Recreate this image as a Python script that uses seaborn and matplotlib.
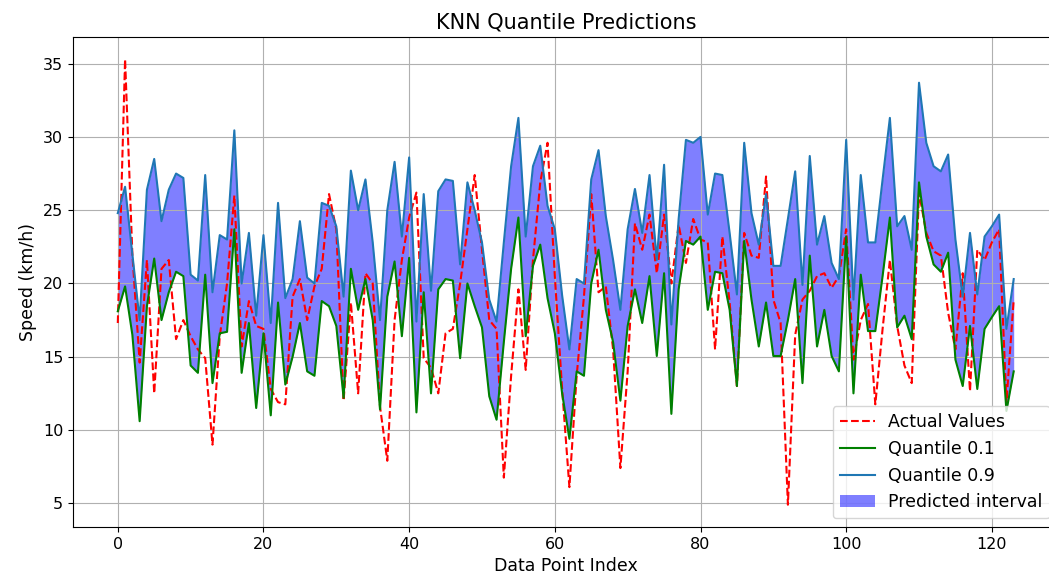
import numpy as np
import pandas as pd
import matplotlib
matplotlib.use("Agg")
import matplotlib.pyplot as plt
import seaborn as sns

actual = [17.3, 35.3, 22.0, 14.6, 21.6, 12.5, 21.0, 21.6, 16.2, 17.5,
          16.4, 15.5, 14.9, 9.0, 16.4, 20.0, 26.0, 15.7, 18.8, 17.1,
          16.9, 12.8, 11.9, 11.75, 19.1, 20.3, 17.5, 19.8, 21.0, 26.1,
          23.7, 12.0, 18.7, 12.5, 20.7, 20.0, 11.6, 7.9, 17.5, 21.6,
          24.5, 26.2, 14.9, 14.25, 12.5, 16.6, 16.9, 20.0, 23.7, 27.4,
          22.3, 17.5, 16.9, 6.75, 13.7, 19.6, 14.1, 21.6, 26.9, 29.6,
          20.5, 12.8, 6.1, 13.7, 19.1, 26.1, 19.4, 19.8, 15.5, 7.4,
          14.0, 24.1, 22.3, 24.7, 20.7, 24.7, 20.0, 24.0, 21.4, 24.4,
          23.0, 22.8, 15.5, 23.2, 18.7, 13.0, 23.45, 21.9, 21.75, 27.3,
          18.9, 17.3, 4.9, 16.5, 18.9, 19.5, 20.5, 20.7, 19.7, 20.5,
          23.7, 14.8, 17.5, 18.6, 11.75, 16.9, 21.6, 17.1, 14.4, 13.2,
          26.2, 23.45, 22.2, 21.9, 18.0, 15.5, 20.7, 12.65, 22.3, 21.6,
          22.8, 23.7, 11.9, 18.9]

q10 = [18.1, 19.8, 16.5, 10.6, 18.45, 21.7, 17.5, 19.4, 20.8, 20.5,
       14.4, 13.9, 20.6, 13.2, 16.6, 16.7, 23.7, 13.9, 17.3, 11.5,
       16.6, 11.0, 18.7, 13.1, 15.0, 17.3, 14.0, 13.7, 18.8, 18.45,
       17.1, 12.2, 21.0, 18.2, 20.3, 17.5, 11.4, 19.1, 21.5, 16.4,
       21.75, 11.2, 19.4, 12.5, 19.6, 20.3, 20.2, 14.9, 20.0, 18.45,
       17.0, 12.3, 10.7, 16.0, 21.0, 24.5, 16.4, 21.2, 22.65, 19.0,
       16.6, 12.5, 9.4, 14.0, 13.7, 20.0, 22.3, 18.2, 16.0, 12.0,
       17.1, 19.6, 17.3, 20.5, 15.05, 20.7, 11.1, 19.6, 22.9, 22.65,
       23.2, 18.2, 20.8, 20.7, 18.2, 13.0, 22.9, 18.9, 15.7, 18.7,
       15.05, 15.05, 17.5, 20.3, 13.2, 21.9, 15.7, 18.2, 15.05, 14.0,
       23.2, 12.5, 20.6, 16.75, 16.75, 20.5, 24.5, 17.0, 17.8, 16.2,
       26.9, 23.2, 21.3, 20.8, 22.1, 14.8, 13.0, 17.1, 12.8, 16.9,
       17.7, 18.45, 11.3, 14.0]

q90 = [24.8, 26.6, 22.0, 17.5, 26.4, 28.5, 24.25, 26.4, 27.5, 27.2,
       20.6, 20.2, 27.4, 19.4, 23.3, 23.0, 30.45, 20.0, 23.45, 17.8,
       23.3, 17.3, 25.5, 19.0, 20.3, 24.25, 20.4, 20.0, 25.5, 25.3,
       23.9, 19.1, 27.7, 25.0, 27.1, 22.8, 17.5, 25.0, 28.3, 23.2,
       28.6, 17.4, 26.1, 19.5, 26.3, 27.1, 27.0, 21.3, 26.9, 25.0,
       22.8, 18.9, 17.4, 22.8, 28.0, 31.3, 23.2, 28.0, 29.4, 25.3,
       23.7, 19.2, 15.5, 20.3, 20.0, 27.1, 29.1, 24.6, 21.6, 18.2,
       23.7, 26.45, 23.45, 27.4, 21.6, 28.1, 17.2, 24.4, 29.8, 29.6,
       30.0, 24.7, 27.5, 27.4, 23.45, 19.25, 29.6, 24.8, 22.65, 26.1,
       21.2, 21.2, 24.4, 27.65, 19.9, 28.7, 22.65, 24.6, 21.4, 20.3,
       29.8, 18.9, 27.4, 22.8, 22.8, 27.1, 31.3, 23.9, 24.6, 22.3,
       33.7, 29.6, 28.0, 27.65, 28.8, 23.0, 19.1, 23.45, 19.25, 23.2,
       23.9, 24.7, 16.9, 20.3]

idx = np.arange(len(actual))
df = pd.DataFrame({"idx": idx, "actual": actual, "q10": q10, "q90": q90})

fig = plt.figure(figsize=(10.49, 5.82), dpi=100)
ax = fig.add_axes([73 / 1049, 1 - 527 / 582, (1058.5 - 73) / 1049, (527 - 37) / 582])

sns.lineplot(data=df, x="idx", y="actual", ax=ax, color="red", linestyle="--",
             label="Actual Values", linewidth=1.5)
sns.lineplot(data=df, x="idx", y="q10", ax=ax, color="green",
             label="Quantile 0.1", linewidth=1.5)
sns.lineplot(data=df, x="idx", y="q90", ax=ax, color="#1f77b4",
             label="Quantile 0.9", linewidth=1.5)
ax.fill_between(df["idx"], df["q10"], df["q90"], color="blue", alpha=0.5,
                linewidth=0, label="Predicted interval")

ax.grid(True, color="#b0b0b0", linewidth=0.8)
ax.set_title("KNN Quantile Predictions", fontsize=15)
ax.set_xlabel("Data Point Index", fontsize=12.5)
ax.set_ylabel("Speed (km/h)", fontsize=12.5)
ax.tick_params(labelsize=11.5)
ax.legend(loc="lower right", fontsize=12.5)

fig.savefig("out.png", dpi=100)
